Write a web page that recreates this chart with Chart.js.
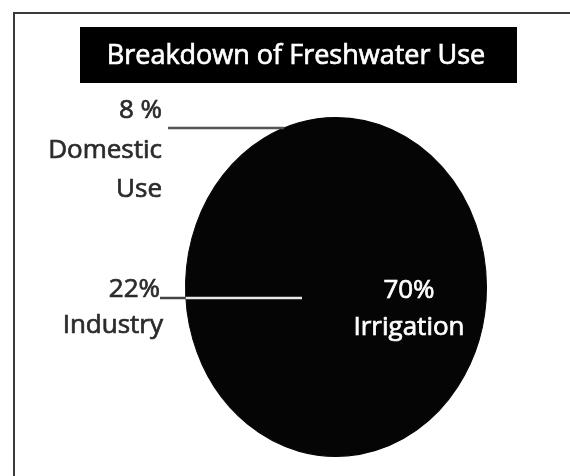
<!DOCTYPE html>
<html>
<head>
<meta charset="utf-8">
<script src="https://cdn.jsdelivr.net/npm/chart.js@4"></script>
<style>
  html, body { margin: 0; padding: 0; background: #fff; }
  canvas { display: block; }
</style>
</head>
<body>
<canvas id="water-chart" width="570" height="476"></canvas>
<script>
const categories = [["Irrigation"], ["Industry"], ["Domestic", "Use"]];
const shares = [70, 22, 8];
const shareLabels = ["70%", "22%", "8 %"];
const chartTitle = "Breakdown of Freshwater Use";

const FONT = "'Open Sans', Lato, sans-serif";
// the pie in the picture is squashed into an ellipse (taller than wide)
const stretchY = 170 / 151;

function pieInfo(chart) {
    const arc = chart.getDatasetMeta(0).data[0];
    return { x: arc.x, y: arc.y, r: arc.outerRadius };
}

// x of the ellipse's left edge at a given y
function leftEdgeAt(p, y) {
    const dy = (y - p.y) / (p.r * stretchY);
    return p.x - p.r * Math.sqrt(Math.max(0, 1 - dy * dy));
}

// text a little heavier than regular, like the scanned original
function heavyText(ctx, text, x, y) {
    ctx.lineWidth = 0.7;
    ctx.strokeStyle = ctx.fillStyle;
    ctx.fillText(text, x, y);
    ctx.strokeText(text, x, y);
}

const ellipsePlugin = {
    id: "ellipse",
    beforeDatasetsDraw(chart) {
        const p = pieInfo(chart);
        const ctx = chart.ctx;
        ctx.save();
        ctx.translate(0, p.y);
        ctx.scale(1, stretchY);
        ctx.translate(0, -p.y);
    },
    afterDatasetsDraw(chart) {
        chart.ctx.restore();
    }
};

const framePlugin = {
    id: "frame",
    beforeDraw(chart) {
        const ctx = chart.ctx;
        ctx.save();
        ctx.fillStyle = "#fff";
        ctx.fillRect(0, 0, chart.width, chart.height);

        ctx.strokeStyle = "#3a3a3a";
        ctx.lineWidth = 2;
        ctx.beginPath();
        ctx.moveTo(14, chart.height);
        ctx.lineTo(14, 13);
        ctx.lineTo(chart.width, 13);
        ctx.stroke();

        // title box
        ctx.fillStyle = "#000";
        ctx.fillRect(80, 27, 437, 56);
        ctx.fillStyle = "#fff";
        ctx.font = "27px " + FONT;
        ctx.textAlign = "center";
        ctx.textBaseline = "alphabetic";
        heavyText(ctx, chartTitle, 296, 64);
        ctx.restore();
    }
};

const labelPlugin = {
    id: "sliceLabels",
    afterDraw(chart) {
        const ctx = chart.ctx;
        const p = pieInfo(chart);
        ctx.save();
        ctx.font = "26px " + FONT;
        ctx.textBaseline = "alphabetic";

        // Domestic use, top left
        ctx.fillStyle = "#2b2b2b";
        ctx.textAlign = "right";
        heavyText(ctx, shareLabels[2], 162, 118);
        heavyText(ctx, categories[2][0], 162, 158);
        heavyText(ctx, categories[2][1], 162, 197);

        ctx.strokeStyle = "#555";
        ctx.lineWidth = 2.5;
        ctx.beginPath();
        ctx.moveTo(168, 128);
        ctx.lineTo(leftEdgeAt(p, 128), 128);
        ctx.stroke();

        // Industry, left
        heavyText(ctx, shareLabels[1], 160, 297);
        heavyText(ctx, categories[1][0], 163, 333);

        const edge = leftEdgeAt(p, 298);
        ctx.lineWidth = 2.5;
        ctx.strokeStyle = "#444";
        ctx.beginPath();
        ctx.moveTo(160, 298);
        ctx.lineTo(edge, 298);
        ctx.stroke();
        ctx.strokeStyle = "#e8e8e8";
        ctx.beginPath();
        ctx.moveTo(edge, 298);
        ctx.lineTo(p.x - 34, 298);
        ctx.stroke();

        // Irrigation, inside the pie
        ctx.fillStyle = "#fff";
        ctx.textAlign = "center";
        heavyText(ctx, shareLabels[0], p.x + 73, 298);
        heavyText(ctx, categories[0][0], p.x + 73, 335);
        ctx.restore();
    }
};

new Chart(document.getElementById("water-chart"), {
    type: "pie",
    data: {
        labels: categories.map(c => c.join(" ")),
        datasets: [{
            data: shares,
            backgroundColor: ["#050505", "#050505", "#050505"],
            borderColor: "#050505",
            borderWidth: 1,
            clip: false
        }]
    },
    options: {
        responsive: false,
        animation: false,
        layout: { padding: { left: 185, right: 83, top: 117, bottom: 19 } },
        plugins: {
            legend: { display: false },
            tooltip: { enabled: false },
            title: { display: false }
        }
    },
    plugins: [framePlugin, ellipsePlugin, labelPlugin]
});
</script>
</body>
</html>
